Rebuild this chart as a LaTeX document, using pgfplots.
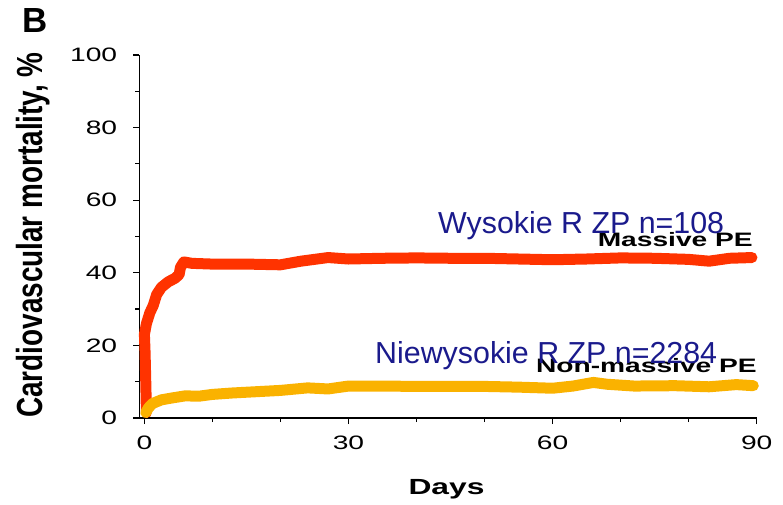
\documentclass[border=0pt]{standalone}
\usepackage{pgfplots}
\pgfplotsset{compat=1.18}
\usepackage{fontspec}
\setmainfont{Liberation Sans}
\newfontfamily\widefont[FakeStretch=1.45]{Liberation Sans}
\definecolor{massred}{RGB}{255,51,0}
\definecolor{nonyellow}{RGB}{250,178,0}
\definecolor{navy}{RGB}{26,26,140}
\begin{document}
\begin{tikzpicture}
\useasboundingbox (-139.3bp,-87bp) rectangle (643.7bp,418bp);
\begin{axis}[
  scale only axis,
  width=617.4bp, height=363bp,
  xmin=-0.75, xmax=90, ymin=0, ymax=100,
  axis lines=left,
  axis line style={-, line width=1.2bp, black},
  xtick={0,30,60,90}, ytick={0,20,40,60,80,100},
  minor x tick num=2, minor y tick num=1,
  tick align=outside,
  major tick length=6bp, minor tick length=4bp,
  every tick/.style={line width=1.2bp, black},
  /pgf/number format/assume math mode=true,
  tick label style={font=\widefont\fontsize{19.5}{19.5}\selectfont},
  xticklabel style={inner sep=0pt, yshift=-12bp},
  yticklabel style={inner sep=0pt, xshift=-16bp},
  clip=false,
  enlargelimits=false,
  xlabel={\widefont\bfseries\fontsize{22}{22}\selectfont Days},
  xlabel style={at={(axis description cs:0.4976,-0.2121)}, anchor=base, inner sep=0pt},
  ylabel={\scalebox{1}[1.3]{\bfseries\fontsize{28}{28}\selectfont Cardiovascular mortality, \%}},
  ylabel style={at={(axis description cs:-0.172,0.504)}, anchor=center, inner sep=0pt},
]
\addplot[massred, line width=11bp, line join=round, line cap=round] coordinates {
(0.3,1.5) (0.2,10) (0.1,18) (0.0,23) (0.3,26) (0.8,29) (1.3,31) (1.8,34)
(2.5,36) (3.5,37.5) (4.5,38.5) (5.1,39.5) (5.3,41.5) (5.8,43) (7,42.6)
(10,42.4) (15,42.4) (20,42.2) (23,43.2) (27,44.2) (30,43.8) (35,44)
(40,44.1) (45,44) (50,44) (55,43.8) (60,43.6) (65,43.8) (70,44.1)
(75,44) (80,43.7) (83,43.2) (86,44) (89.3,44.2)
};
\addplot[nonyellow, line width=11bp, line join=round, line cap=round] coordinates {
(0.2,1.5) (0.6,2.8) (1.2,4) (2.5,5) (4,5.5) (6,6.1) (8,6) (10,6.5)
(13,6.9) (17,7.3) (20,7.6) (24,8.3) (27,8) (30,8.8) (35,8.8) (40,8.7)
(50,8.7) (55,8.5) (60,8.2) (63,8.8) (66,9.8) (68,9.3) (72,8.8) (78,8.9)
(83,8.6) (87,9.2) (89.5,8.9)
};
\end{axis}
\node[anchor=base west, inner sep=0pt, font=\bfseries\fontsize{35}{35}\selectfont] at (-117.3bp,385bp) {B};
\node[anchor=base east, inner sep=0pt, font=\widefont\bfseries\fontsize{19.5}{19.5}\selectfont] at (613.7bp,171bp) {Massive PE};
\node[anchor=base east, inner sep=0pt, font=\widefont\bfseries\fontsize{19.5}{19.5}\selectfont] at (617.7bp,45bp) {Non-massive PE};
\node[anchor=base west, inner sep=0pt, text=navy, font=\fontsize{30.5}{30.5}\selectfont] at (298.7bp,184.7bp) {Wysokie R ZP n=108};
\node[anchor=base west, inner sep=0pt, text=navy, font=\fontsize{30.5}{30.5}\selectfont] at (235.7bp,54.7bp) {Niewysokie R ZP n=2284};
\end{tikzpicture}
\end{document}
